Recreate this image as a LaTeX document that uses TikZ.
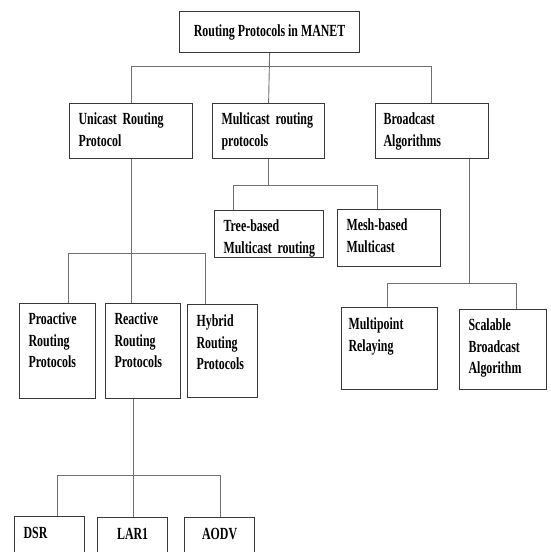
\documentclass[tikz,border=0pt]{standalone}
\usepackage{fontspec}
\setmainfont{Liberation Serif}[FakeStretch=0.70]
\usepackage{tikz}
\usetikzlibrary{positioning}
\definecolor{boxline}{HTML}{383838}
\definecolor{linkline}{HTML}{707070}

\begin{document}
\begin{tikzpicture}[
  x=1pt, y=-1pt,
  protobox/.style={draw=boxline, line width=1.2pt, anchor=north west,
                   inner xsep=9pt, inner ysep=0pt, align=left, text height=21pt,
                   font=\bfseries\fontsize{17}{21.5}\selectfont},
  rootbox/.style={draw=boxline, line width=1.2pt, anchor=north west,
                  inner sep=0pt, minimum width=180pt, minimum height=41pt,
                  font=\bfseries\fontsize{17}{21.5}\selectfont},
  link/.style={linkline, line width=0.9pt}
]
  \path[use as bounding box, clip] (0,0) rectangle (551,552);

  \node[rootbox] (root) at (179,11) {Routing Protocols in MANET};

  \node[protobox, text width=105pt, text depth=34pt] (uni) at (69,103) {\mbox{Unicast Routing}\\Protocol};
  \node[protobox, text width=94pt, text depth=34pt] (mul) at (212,103) {\mbox{Multicast routing}\\protocols};
  \node[protobox, inner xsep=8pt, text width=97pt, text depth=34pt] (bro) at (375,103) {Broadcast\\Algorithms};

  \node[protobox, text width=91pt, text depth=26pt] (tree) at (214,210) {Tree-based\\\mbox{Multicast routing}};
  \node[protobox, text width=85pt, text depth=36pt] (mesh) at (337,209) {Mesh-based\\Multicast};

  \node[protobox, text width=58pt, text depth=74pt] (pro) at (19,303) {Proactive\\Routing\\Protocols};
  \node[protobox, text width=57pt, text depth=74pt] (rea) at (105,303) {Reactive\\Routing\\Protocols};
  \node[protobox, text width=52pt, text depth=71pt, text height=22pt] (hyb) at (187,304) {Hybrid\\Routing\\Protocols};

  \node[protobox, inner xsep=7pt, text width=82pt, text depth=60pt, text height=22pt] (mpr) at (341,307) {Multipoint\\Relaying};
  \node[protobox, text width=69pt, text depth=59pt] (sba) at (459,309) {Scalable\\Broadcast\\Algorithm};

  \node[protobox, text width=52pt, text depth=39pt, text height=22pt] (dsr) at (14,516) {DSR};
  \node[protobox, align=center, text width=52pt, text depth=39pt, text height=22pt] (lar) at (97,517) {LAR1};
  \node[protobox, align=center, text width=52pt, text depth=39pt, text height=22pt] (aodv) at (184,517) {AODV};

  \coordinate (t-l) at (131,66);
  \coordinate (t-r) at (431,66);
  \coordinate (m-l) at (233,185);
  \coordinate (m-r) at (377,185);
  \coordinate (u-l) at (68,253);
  \coordinate (u-r) at (205,253);
  \coordinate (b-c) at (469,283);
  \coordinate (b-l) at (387,283);
  \coordinate (b-r) at (516,283);
  \coordinate (r-c) at (133,475);
  \coordinate (r-l) at (57,475);
  \coordinate (r-r) at (220,475);

  \draw[link] (root.south) -- (mul.north);
  \draw[link] (t-l) -- (t-r);
  \foreach \j/\n in {t-l/uni, t-r/bro}
    \draw[link] (\j) -- (\j |- \n.north);

  \draw[link] (mul.south) -- (mul.south |- m-l);
  \draw[link] (m-l) -- (m-r);
  \foreach \j/\n in {m-l/tree, m-r/mesh}
    \draw[link] (\j) -- (\j |- \n.north);

  \draw[link] (uni.south) -- (uni.south |- rea.north);
  \draw[link] (u-l) -- (u-r);
  \foreach \j/\n in {u-l/pro, u-r/hyb}
    \draw[link] (\j) -- (\j |- \n.north);

  \draw[link] (b-c |- bro.south) -- (b-c);
  \draw[link] (b-l) -- (b-r);
  \foreach \j/\n in {b-l/mpr, b-r/sba}
    \draw[link] (\j) -- (\j |- \n.north);

  \draw[link] (r-c |- rea.south) -- (r-c);
  \draw[link] (r-l) -- (r-r);
  \foreach \j/\n in {r-l/dsr, r-c/lar, r-r/aodv}
    \draw[link] (\j) -- (\j |- \n.north);
\end{tikzpicture}
\end{document}
